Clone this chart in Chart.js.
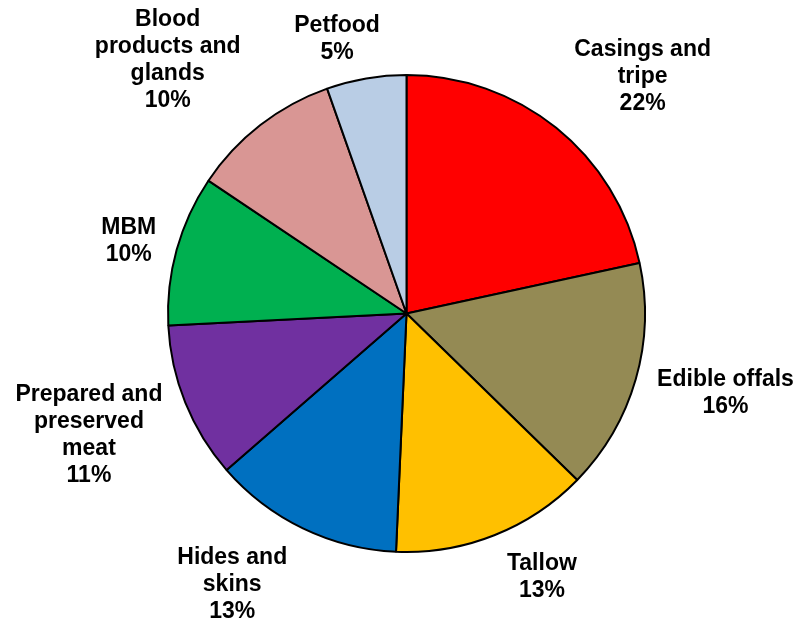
<!DOCTYPE html>
<html lang="en">
<head>
<meta charset="utf-8">
<title>Slaughter by-products</title>
<script src="https://cdn.jsdelivr.net/npm/chart.js@4/dist/chart.umd.min.js"></script>
<style>
    html, body {
        margin: 0;
        padding: 0;
        background: #ffffff;
    }

    #chart {
        display: block;
    }
</style>
</head>
<body>
<canvas id="chart" width="801" height="623"></canvas>

<script>
'use strict';

// =========================================================
// DATA (clockwise from 12 o'clock)
// =========================================================

const categories = [
    ['Casings and', 'tripe'],
    ['Edible offals'],
    ['Tallow'],
    ['Hides and', 'skins'],
    ['Prepared and', 'preserved', 'meat'],
    ['MBM'],
    ['Blood', 'products and', 'glands'],
    ['Petfood'],
];

const shares = [21.6, 15.7, 13.4, 12.9, 10.6, 10.2, 10.2, 5.4];

const sliceColors = [
    '#FF0000',
    '#948A54',
    '#FFC000',
    '#0070C0',
    '#7030A0',
    '#00B050',
    '#D99694',
    '#B9CDE5',
];


// =========================================================
// LABEL LAYOUT
// =========================================================

const LABEL_FONT = 'bold 23px "Liberation Sans", Arial, sans-serif';
const LABEL_LINE_HEIGHT = 27;
const LABEL_GAP = 16;

// small nudges so the labels sit where Excel put them
const labelNudges = [
    [8, 2],
    [6, -5],
    [16, 0],
    [-16, 1],
    [-8, -14],
    [-5, 10],
    [-10, 2],
    [-12, 4],
];

const clamp = (value) => Math.max(-1, Math.min(1, value));

const outsideLabels = {
    id: 'outsideLabels',
    afterDatasetsDraw(chart) {
        const ctx = chart.ctx;
        const meta = chart.getDatasetMeta(0);
        const total = shares.reduce((sum, value) => sum + value, 0);

        ctx.save();
        ctx.font = LABEL_FONT;
        ctx.fillStyle = '#000000';
        ctx.textAlign = 'center';
        ctx.textBaseline = 'middle';

        meta.data.forEach((arc, index) => {
            const props = arc.getProps(['x', 'y', 'startAngle', 'endAngle', 'outerRadius'], true);
            const mid = (props.startAngle + props.endAngle) / 2;
            const percent = Math.round(shares[index] / total * 100) + '%';
            const lines = [...categories[index], percent];

            const width = Math.max(...lines.map((line) => ctx.measureText(line).width));
            const height = lines.length * LABEL_LINE_HEIGHT;

            // anchor just outside the rim, then push the box away from the pie
            const anchorX = props.x + Math.cos(mid) * (props.outerRadius + LABEL_GAP);
            const anchorY = props.y + Math.sin(mid) * (props.outerRadius + LABEL_GAP);

            const centerX = anchorX + width / 2 * clamp(Math.cos(mid) * 2) + labelNudges[index][0];
            const centerY = anchorY + height / 2 * clamp(Math.sin(mid) * 2) + labelNudges[index][1];

            const top = centerY - height / 2 + LABEL_LINE_HEIGHT / 2;

            lines.forEach((line, lineIndex) => {
                ctx.fillText(line, centerX, top + lineIndex * LABEL_LINE_HEIGHT);
            });
        });

        ctx.restore();
    },
};


// =========================================================
// CHART
// =========================================================

const init = () => {
    const canvas = document.querySelector('#chart');

    new Chart(canvas, {
        type: 'pie',
        data: {
            labels: categories.map((lines) => lines.join(' ')),
            datasets: [
                {
                    data: shares,
                    backgroundColor: sliceColors,
                    borderColor: '#000000',
                    borderWidth: 2,
                },
            ],
        },
        options: {
            responsive: false,
            animation: false,
            layout: {
                padding: {
                    left: 167,
                    right: 155,
                    top: 74,
                    bottom: 70,
                },
            },
            plugins: {
                legend: { display: false },
                tooltip: { enabled: false },
            },
        },
        plugins: [outsideLabels],
    });
};

document.addEventListener('DOMContentLoaded', init);
</script>
</body>
</html>
